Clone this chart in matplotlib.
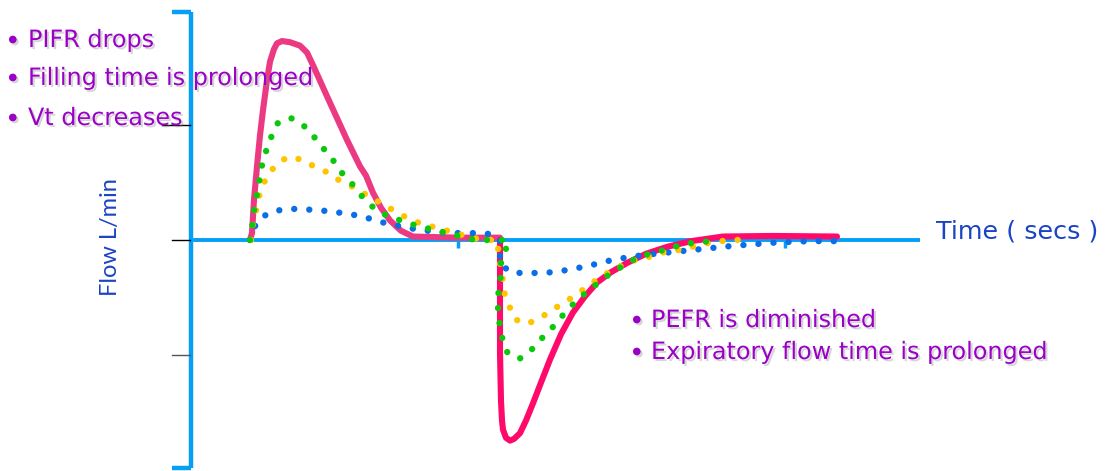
import matplotlib
matplotlib.use("Agg")
import matplotlib.pyplot as plt
import matplotlib.patheffects as pe

# flow curves, time (s) vs flow (arbitrary units)
pink_insp_t = [0.59, 0.61, 0.63, 0.66, 0.69, 0.72, 0.76, 0.79, 0.83, 0.86, 0.91, 0.99, 1.09, 1.16, 1.22,
               1.36, 1.56, 1.69, 1.75, 1.82, 1.90, 1.99, 2.10, 2.22, 2.69, 3.09]
pink_insp_f = [0.0, 0.06, 0.35, 0.64, 0.91, 1.13, 1.39, 1.55, 1.66, 1.71, 1.73, 1.72, 1.69, 1.63, 1.52,
               1.25, 0.87, 0.64, 0.56, 0.41, 0.28, 0.17, 0.08, 0.03, 0.02, 0.02]
pink_exp_t = [3.09, 3.09, 3.09, 3.10, 3.11, 3.12, 3.15, 3.19, 3.23, 3.29, 3.35, 3.42, 3.50, 3.59, 3.70,
              3.82, 3.94, 4.06, 4.20, 4.36, 4.55, 4.76, 5.00, 5.32, 5.82, 6.46]
pink_exp_f = [0.0, -0.52, -0.98, -1.40, -1.57, -1.65, -1.72, -1.745, -1.73, -1.68, -1.57, -1.42, -1.24,
              -1.04, -0.82, -0.63, -0.49, -0.37, -0.28, -0.20, -0.12, -0.06, -0.01, 0.03, 0.035, 0.03]

blue_t = [0.59, 0.62, 0.68, 0.79, 0.94, 1.09, 1.39, 1.69, 1.97, 2.27, 2.57, 2.87, 3.02, 3.09,
          3.09, 3.19, 3.34, 3.64, 3.95, 4.23, 4.53, 4.98, 5.43, 5.88, 6.19, 6.51]
blue_f = [0.0, 0.09, 0.18, 0.24, 0.27, 0.27, 0.25, 0.21, 0.14, 0.09, 0.06, 0.06, 0.05, 0.0,
          -0.2, -0.28, -0.29, -0.28, -0.23, -0.17, -0.13, -0.09, -0.05, -0.02, -0.01, -0.01]

yellow_t = [0.60, 0.61, 0.63, 0.66, 0.68, 0.72, 0.77, 0.85, 0.96, 1.11, 1.23, 1.36, 1.48, 1.60, 1.72,
            1.84, 1.96, 2.08, 2.21, 2.35, 2.49, 2.64, 2.77, 2.91, 3.06,
            3.09, 3.11, 3.14, 3.19, 3.24, 3.36, 3.49, 3.61, 3.72, 3.83, 3.94, 4.05, 4.16, 4.29,
            4.42, 4.57, 4.71, 4.86, 5.01, 5.15, 5.30, 5.45, 5.60]
yellow_f = [0.0, 0.09, 0.19, 0.29, 0.38, 0.48, 0.57, 0.65, 0.72, 0.70, 0.64, 0.59, 0.52, 0.47, 0.41,
            0.35, 0.29, 0.23, 0.17, 0.13, 0.10, 0.06, 0.03, 0.0, 0.0,
            -0.2, -0.30, -0.49, -0.59, -0.69, -0.73, -0.68, -0.61, -0.55, -0.49, -0.42, -0.35, -0.29, -0.23,
            -0.18, -0.15, -0.11, -0.09, -0.06, -0.03, -0.01, 0.0, 0.01]

green_t = [0.59, 0.60, 0.63, 0.67, 0.69, 0.71, 0.74, 0.77, 0.82, 0.87, 1.00, 1.12, 1.21, 1.29, 1.37,
           1.45, 1.52, 1.60, 1.68, 1.76, 1.87, 1.99, 2.13, 2.27, 2.42, 2.56, 2.70, 2.84, 3.17,
           3.14, 3.10, 3.10, 3.08, 3.07, 3.07, 3.08, 3.10, 3.12, 3.17, 3.29, 3.40, 3.48, 3.57,
           3.66, 3.74, 3.82, 3.92, 4.02, 4.13, 4.24, 4.36, 4.48, 4.62, 4.76, 4.91, 5.06, 5.21]
green_f = [0.0, 0.04, 0.25, 0.45, 0.55, 0.65, 0.74, 0.83, 0.93, 1.02, 1.06, 1.00, 0.92, 0.83, 0.75,
           0.66, 0.57, 0.50, 0.41, 0.33, 0.25, 0.20, 0.16, 0.12, 0.09, 0.06, 0.03, 0.0, 0.0,
           -0.11, -0.2, -0.30, -0.41, -0.50, -0.60, -0.70, -0.79, -0.89, -0.99, -1.03, -0.96, -0.88, -0.80,
           -0.72, -0.63, -0.56, -0.48, -0.41, -0.33, -0.27, -0.20, -0.15, -0.11, -0.08, -0.04, -0.02, -0.01]

left_notes = ["PIFR drops", "Filling time is prolonged", "Vt decreases"]
right_notes = ["PEFR is diminished", "Expiratory flow time is prolonged"]
y_ticks = [1, 0, -1]
time_ticks = [2.67, 5.94]

axis_blue = "#079FF5"
purple = "#9A00C6"
label_blue = "#1B44C4"

fig = plt.figure(figsize=(11.08, 4.71), dpi=100)
ax = fig.add_axes([0, 0, 1, 1])
ax.set_xlim(-1.91, 9.17)
ax.set_ylim(-2.009, 2.087)
ax.axis("off")

# axes drawn by hand
ax.plot([0, 0], [-1.98, 1.98], color=axis_blue, lw=3.2, solid_capstyle="butt", zorder=2)
ax.plot([-0.19, 0], [1.98, 1.98], color=axis_blue, lw=3.2, solid_capstyle="butt", zorder=2)
ax.plot([-0.19, 0], [-1.98, -1.98], color=axis_blue, lw=3.2, solid_capstyle="butt", zorder=2)
ax.plot([0, 7.29], [0, 0], color=axis_blue, lw=2.8, solid_capstyle="butt", zorder=2)
for tt in time_ticks:
    ax.plot([tt, tt], [0, -0.07], color=axis_blue, lw=2.5, solid_capstyle="butt", zorder=2)
for yt in y_ticks:
    x0 = -0.29 if yt == 1 else -0.19
    c = "#555555" if yt < 0 else "black"
    ax.plot([x0, -0.01], [yt, yt], color=c, lw=1.0, zorder=3)

# normal curve
ax.plot(pink_insp_t, pink_insp_f, color="#EC3A82", lw=4.4, solid_joinstyle="round",
        solid_capstyle="round", zorder=3)
ax.plot(pink_exp_t, pink_exp_f, color="#FF0A6A", lw=4.4, solid_joinstyle="round",
        solid_capstyle="round", zorder=3)

# obstructed curves
dots = dict(lw=4.6, linestyle=(0, (0.01, 2.35)), dash_capstyle="round", zorder=4)
ax.plot(blue_t, blue_f, color="#0A6EE6", **dots)
ax.plot(yellow_t, yellow_f, color="#FFC400", **dots)
ax.plot(green_t, green_f, color="#0CC80C", **dots)

shadow = [pe.SimplePatchShadow(offset=(1.5, -1.5), shadow_rgbFace="#888888", alpha=0.35), pe.Normal()]
font = "DejaVu Sans"

for i, note in enumerate(left_notes):
    y = [1.739, 1.409, 1.061][i]
    ax.text(-1.86, y - 0.02, "\u2022", color=purple, fontsize=19, family=font, va="center", ha="left",
            path_effects=shadow, zorder=5)
    ax.text(-1.63, y, note, color=purple, fontsize=17.2, family=font, va="center", ha="left",
            path_effects=shadow, zorder=5)

for i, note in enumerate(right_notes):
    y = [-0.696, -0.974][i]
    ax.text(4.38, y - 0.02, "\u2022", color=purple, fontsize=19, family=font, va="center", ha="left",
            path_effects=shadow, zorder=5)
    ax.text(4.60, y, note, color=purple, fontsize=17.2, family=font, va="center", ha="left",
            path_effects=shadow, zorder=5)

ax.text(7.45, 0.078, "Time ( secs )", color=label_blue, fontsize=18.3, family=font,
        va="center", ha="left")
ax.text(-0.81, 0.026, "Flow L/min", color=label_blue, fontsize=17, family="Lato",
        va="center", ha="center", rotation=90)

fig.savefig("out.png", dpi=100)
